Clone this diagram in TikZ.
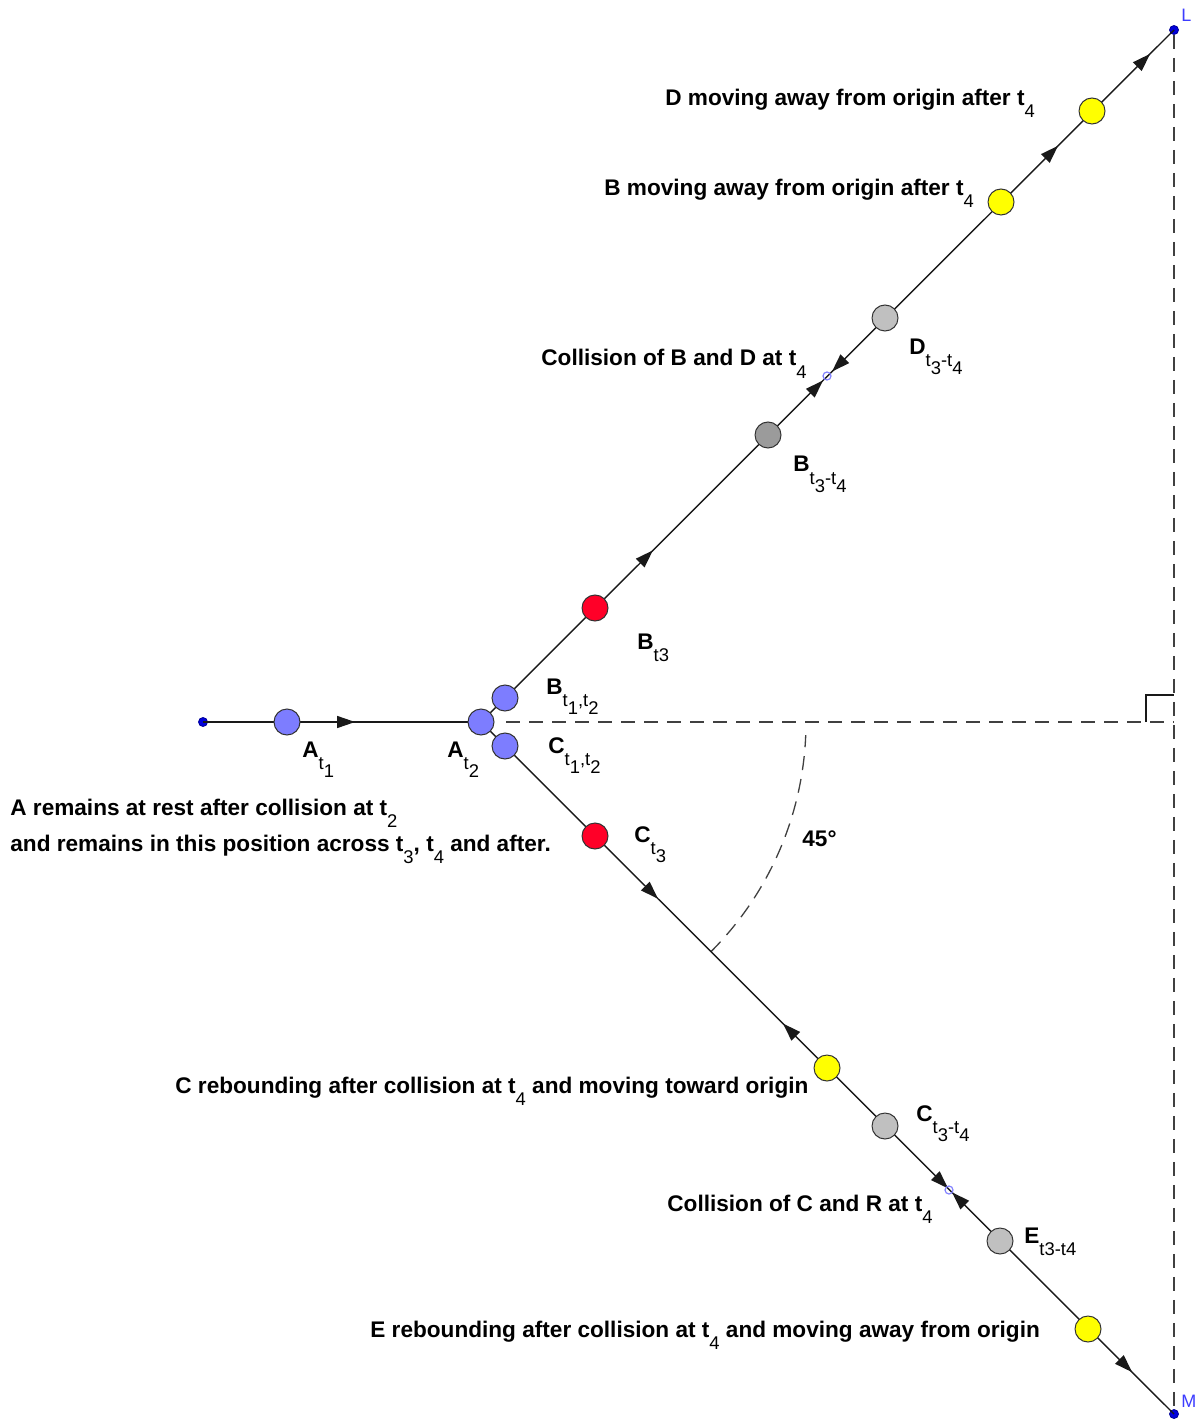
\documentclass[tikz,border=0pt]{standalone}
\usepackage{fontspec}
\setmainfont{Liberation Sans}
\usetikzlibrary{arrows.meta,decorations.markings}
\definecolor{ballblue}{RGB}{125,125,255}
\definecolor{ballred}{RGB}{255,0,40}
\definecolor{ballgray}{RGB}{192,192,192}
\definecolor{balldark}{RGB}{155,155,155}
\definecolor{ballyellow}{RGB}{255,255,0}
\definecolor{ptblue}{RGB}{0,0,220}
\definecolor{lblblue}{RGB}{60,60,255}
\definecolor{hitblue}{RGB}{130,130,255}
\newcommand\subsz{\fontsize{9.2}{10}\selectfont\mdseries}
\newcommand\sbx[1]{\raisebox{-6pt}{\subsz #1}}
\newcommand\ssbx[1]{\raisebox{-4pt}{#1}}
\tikzset{
  >={Triangle[length=9pt,width=6pt]},
  ball/.style={circle, draw=black!80, line width=0.5pt, minimum size=13pt, inner sep=0pt},
  dot/.style={circle, draw=ptblue!70!black, fill=ptblue, line width=0.4pt, minimum size=4.5pt, inner sep=0pt},
  hit/.style={circle, draw=hitblue, line width=0.6pt, minimum size=4pt, inner sep=0pt},
  solidline/.style={line width=0.7pt, draw=black!90},
  dashline/.style={line width=0.65pt, draw=black!75, dash pattern=on 7pt off 4.5pt},
  lab/.style={anchor=base west, inner sep=0pt, font=\bfseries\fontsize{11.3}{13}\selectfont},
  ptlab/.style={anchor=base west, inner sep=0pt, text=lblblue, font=\fontsize{9}{10}\selectfont},
}
\begin{document}
\begin{tikzpicture}[x=0.5pt,y=-0.5pt]
\useasboundingbox (0,0) rectangle (1200,1422);
% key points
\coordinate (O) at (481,722);
\coordinate (R) at (1174,722);
\node[dot] (P0) at (203,722) {};
\node[dot] (L) at (1174,30) {};
\node[dot] (M) at (1174,1414) {};
% construction lines
\draw[dashline] (L) -- (M);
\draw[dashline] (506,722) -- (R);
\draw[solidline] ([xshift=-14pt]R) -- ++(0,-27) -- ++(28,0);
\draw[dashline] (O) ++(45:325) arc[start angle=45, end angle=2.3, radius=325];
% motion lines
\draw[solidline, postaction={decorate}, decoration={markings,
  mark=at position 0.547 with {\arrow{>}}}] (P0.center) -- (O);
\draw[solidline, postaction={decorate}, decoration={markings,
  mark=at position 0.248 with {\arrow{>}},
  mark=at position 0.4935 with {\arrow{>}},
  mark=at position 0.5065 with {\arrowreversed{>}},
  mark=at position 0.8326 with {\arrow{>}},
  mark=at position 0.9654 with {\arrow{>}}}] (O) -- (L.center);
\draw[solidline, postaction={decorate}, decoration={markings,
  mark=at position 0.2554 with {\arrow{>}},
  mark=at position 0.4358 with {\arrowreversed{>}},
  mark=at position 0.6739 with {\arrow{>}},
  mark=at position 0.6797 with {\arrowreversed{>}},
  mark=at position 0.9394 with {\arrow{>}}}] (O) -- (M.center);
% balls
\node[ball, fill=ballblue] (At1) at (287,722) {};
\node[ball, fill=ballblue] (At2) at (481,722) {};
\node[ball, fill=ballblue] (Bt12) at (505,698) {};
\node[ball, fill=ballblue] (Ct12) at (505,746) {};
\node[ball, fill=ballred] (Bt3) at (595,608) {};
\node[ball, fill=balldark] (Bt34) at (768,435) {};
\node[ball, fill=ballgray] (Dt34) at (885,318) {};
\node[ball, fill=ballyellow] (Byel) at (1001,202) {};
\node[ball, fill=ballyellow] (Dyel) at (1092,111) {};
\node[hit] (hitBD) at (827,376) {};
\node[ball, fill=ballred] (Ct3) at (595,836) {};
\node[ball, fill=ballyellow] (Cyel) at (827,1068) {};
\node[ball, fill=ballgray] (Ct34) at (885,1126) {};
\node[hit] (hitCR) at (949,1190) {};
\node[ball, fill=ballgray] (Et34) at (1000,1241) {};
\node[ball, fill=ballyellow] (Eyel) at (1088,1329) {};
% point names
\node[ptlab] (lL) at (1181,22) {L};
\node[ptlab] (lM) at (1181,1407) {M};
% labels
\node[lab] (tD) at (665,106) {D moving away from origin after t\sbx{4}};
\node[lab] (tB) at (604,196) {B moving away from origin after t\sbx{4}};
\node[lab] (tBD) at (541,366) {Collision of B and D at t\sbx{4}};
\node[lab] (lDt34) at (909,355) {D\sbx{t\ssbx{3}-t\ssbx{4}}};
\node[lab] (lBt34) at (793,472) {B\sbx{t\ssbx{3}-t\ssbx{4}}};
\node[lab] (lBt3) at (637,649) {B\sbx{t3}};
\node[lab] (lBt12) at (546,694) {B\sbx{t\ssbx{1},t\ssbx{2}}};
\node[lab] (lAt1) at (302,757) {A\sbx{t\ssbx{1}}};
\node[lab] (lAt2) at (447,757) {A\sbx{t\ssbx{2}}};
\node[lab] (lCt12) at (548,753) {C\sbx{t\ssbx{1},t\ssbx{2}}};
\node[lab] (tA1) at (10,815) {A remains at rest after collision at t\sbx{2}};
\node[lab] (tA2) at (10,851) {and remains in this position across t\sbx{3}, t\sbx{4} and after.};
\node[lab] (lCt3) at (634,842) {C\sbx{t\ssbx{3}}};
\node[lab] (angle) at (802,846) {45°};
\node[lab] (tC) at (175,1093) {C rebounding after collision at t\sbx{4} and moving toward origin};
\node[lab] (lCt34) at (916,1121) {C\sbx{t\ssbx{3}-t\ssbx{4}}};
\node[lab] (tCR) at (667,1211) {Collision of C and R at t\sbx{4}};
\node[lab] (lEt34) at (1024,1243) {E\sbx{t3-t4}};
\node[lab] (tE) at (370,1337) {E rebounding after collision at t\sbx{4} and moving away from origin};
\end{tikzpicture}
\end{document}
